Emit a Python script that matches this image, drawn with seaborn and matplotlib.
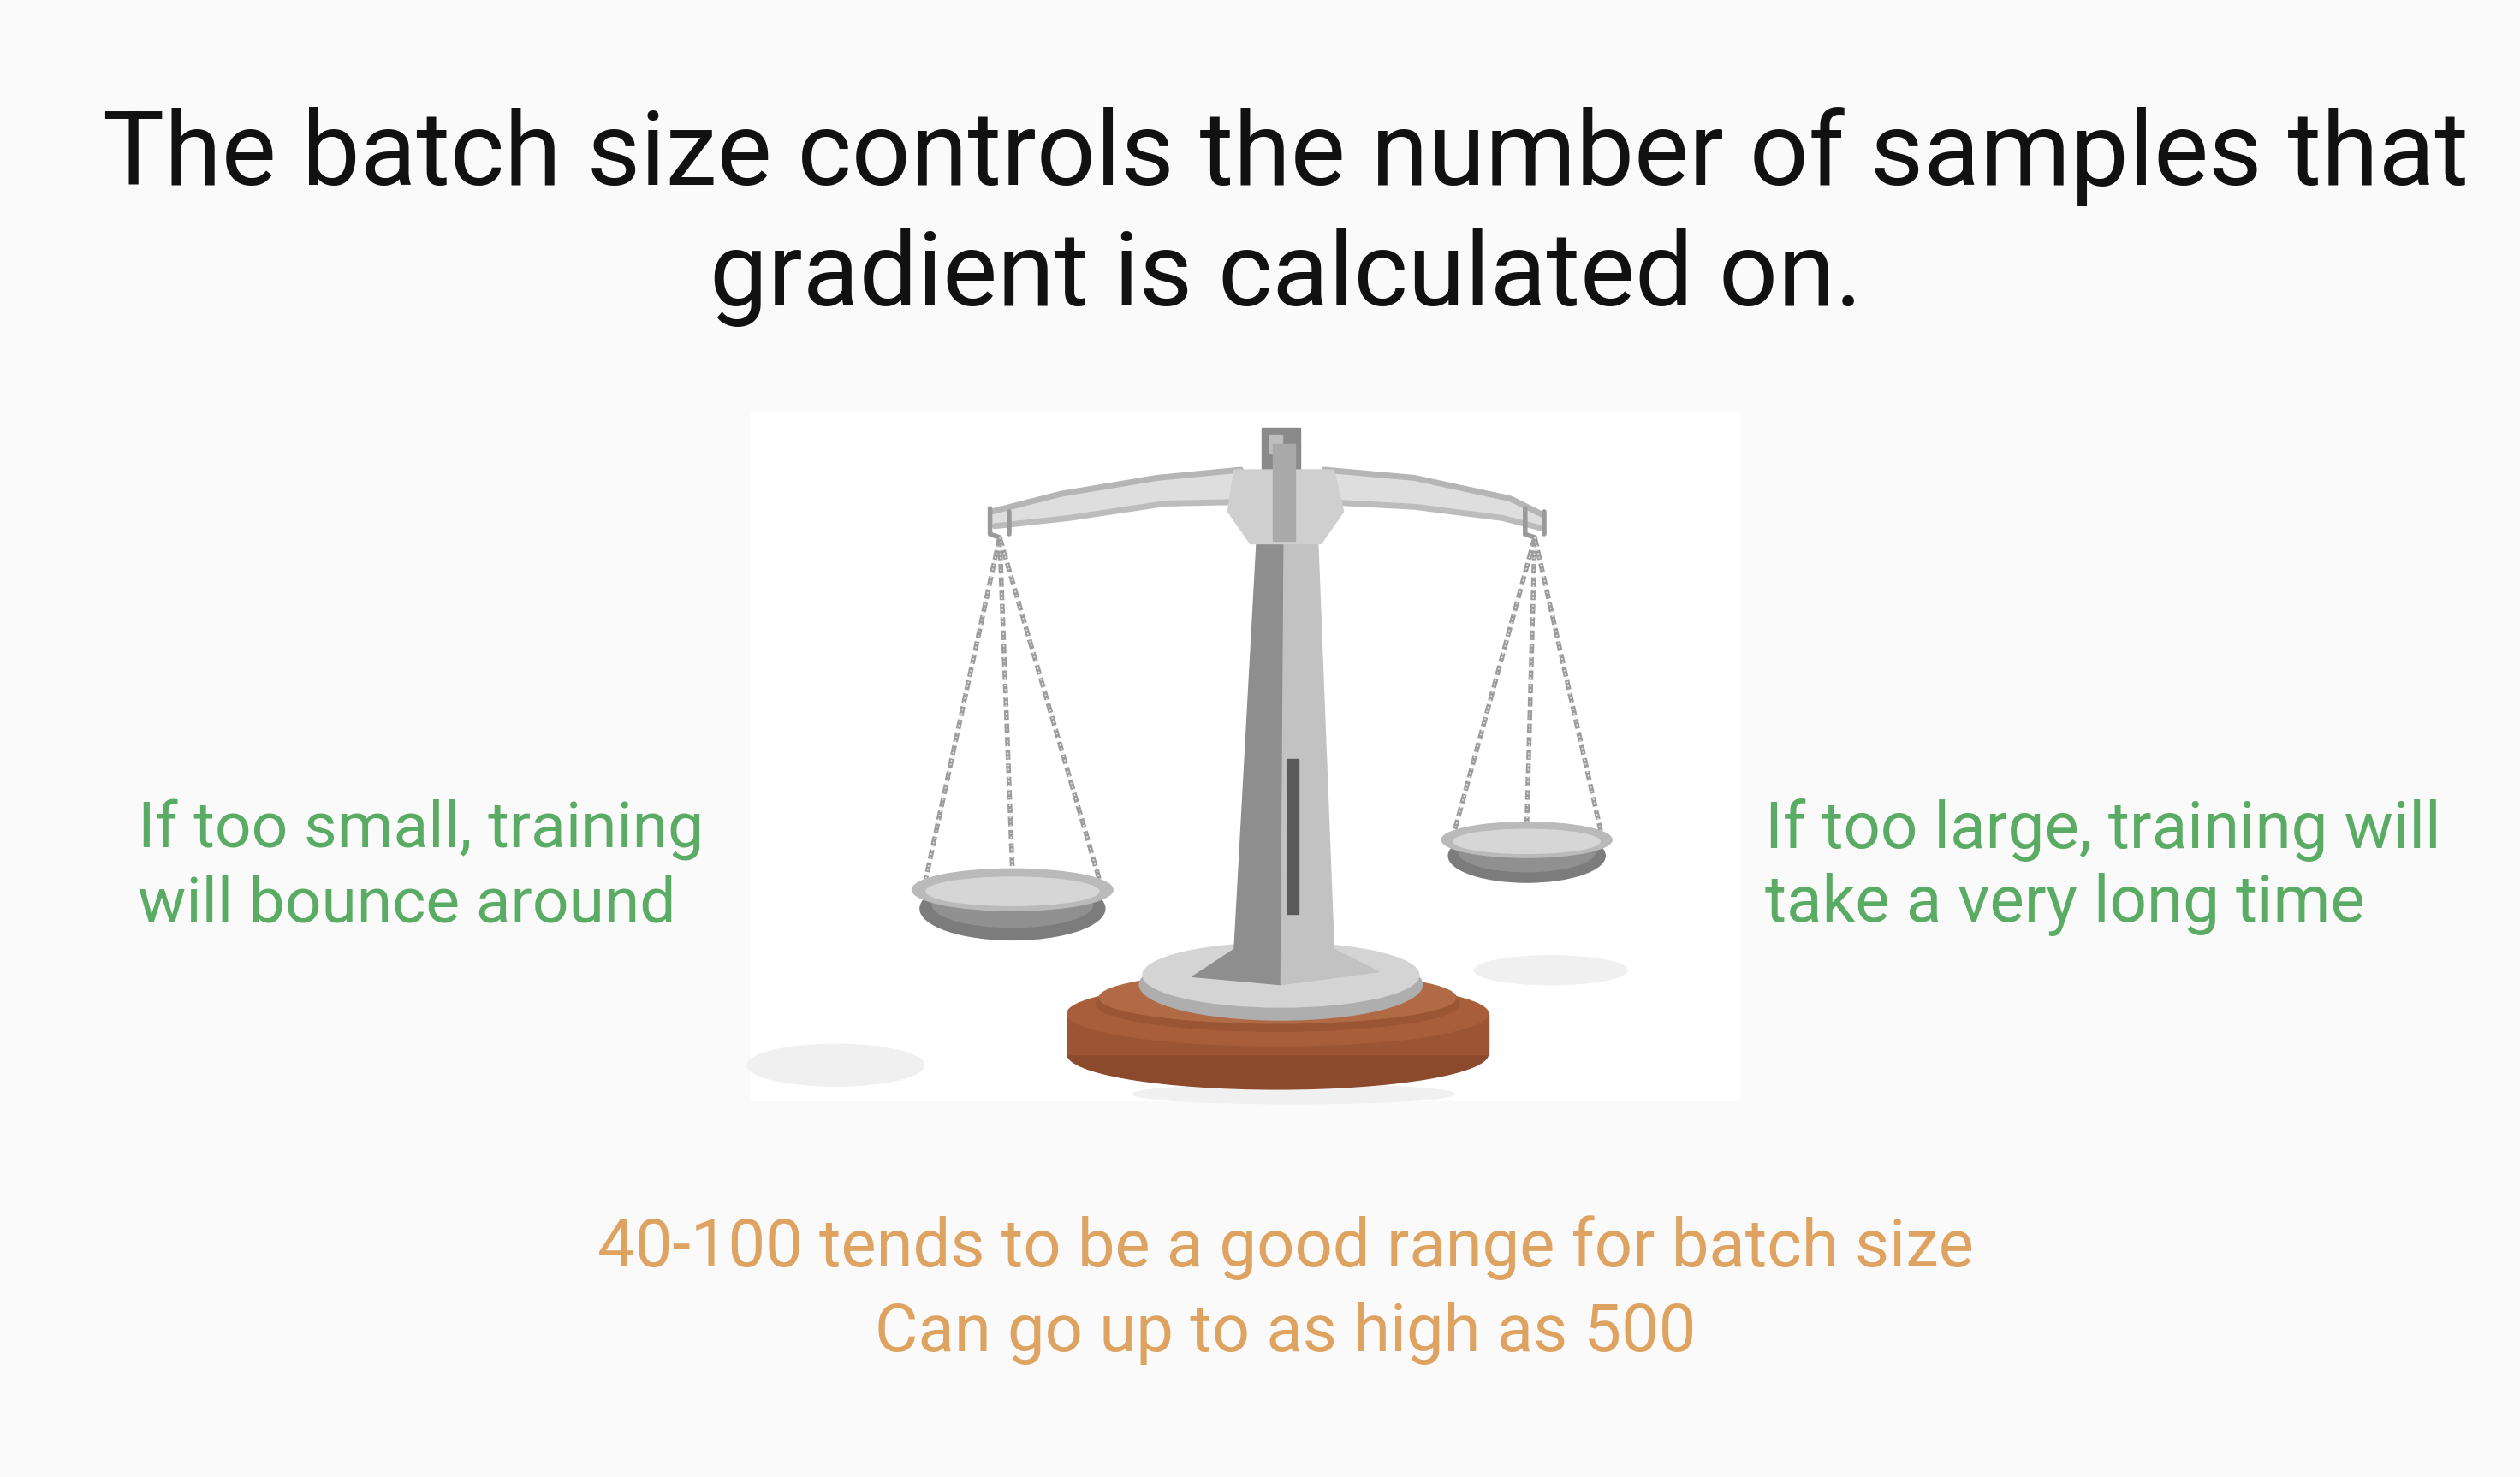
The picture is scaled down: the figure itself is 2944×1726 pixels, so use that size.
import seaborn as sns
import matplotlib.pyplot as plt
import numpy as np
from matplotlib.patches import Ellipse, Polygon, Rectangle

# ---------------- text content ----------------
title_lines = ["The batch size controls the number of samples that",
               "gradient is calculated on."]
left_lines = ["If too small, training", "will bounce around"]
right_lines = ["If too large, training will", "take a very long time"]
bottom_lines = ["40-100 tends to be a good range for batch size",
                "Can go up to as high as 500"]

# ---------------- scale drawing (slide coords, 1568 x 918) ----------------
hook_left = (622, 330)
hook_right = (955, 330)
pan_left = (630, 553, 125, 26)     # cx, cy, w, h
pan_right = (950, 522, 106, 22)
chain_left_ends = [576, 630, 684]
chain_right_ends = [905, 950, 996]

sns.set_theme(style="white")
plt.rcParams['font.family'] = ['Roboto', 'DejaVu Sans']

fig = plt.figure(figsize=(29.44, 17.26), dpi=100)
fig.patch.set_facecolor("#fafafa")
ax = fig.add_axes([0, 0, 1, 1])
ax.set_xlim(0, 1568)
ax.set_ylim(918, 0)
ax.axis("off")

# white picture box
ax.add_patch(Rectangle((467, 256), 615, 428, color="white", zorder=0))

# soft shadows
for (cx, cy, w, h) in [(520, 662, 110, 26), (965, 603, 95, 18), (805, 680, 200, 12)]:
    ax.add_patch(Ellipse((cx, cy), w, h, color="#f0f0f0", zorder=1))

# wooden base
ax.add_patch(Ellipse((795, 655), 262, 44, color="#8c4a2c", zorder=2))
ax.add_patch(Rectangle((664, 630), 262, 25, color="#9c5534", zorder=2))
ax.add_patch(Ellipse((795, 630), 262, 40, color="#a85e3b", zorder=3))
ax.add_patch(Ellipse((795, 624), 226, 34, color="#9a5535", zorder=3))
ax.add_patch(Ellipse((795, 620), 222, 32, color="#b06a45", zorder=3))

# silver foot
ax.add_patch(Ellipse((797, 612), 176, 44, color="#aeaeae", zorder=4))
ax.add_patch(Ellipse((797, 606), 172, 40, color="#d4d4d4", zorder=4))

# column
ax.add_patch(Polygon([(782, 336), (799, 336), (797, 612), (742, 607),
                      (768, 590)], closed=True, color="#8e8e8e", zorder=5))
ax.add_patch(Polygon([(799, 336), (820, 336), (830, 590), (858, 604),
                      (797, 612)], closed=True, color="#c2c2c2", zorder=5))
ax.add_patch(Rectangle((801, 472), 7, 96, color="#5a5a5a", zorder=6))

# post top
ax.add_patch(Rectangle((785, 266), 24, 40, color="#8a8a8a", zorder=6))
ax.add_patch(Rectangle((790, 270), 8, 12, color="#bdbdbd", zorder=7))

# beam arms (upper and lower edges)
beam_upper_l = [(617, 318), (660, 307), (720, 297), (772, 292)]
beam_lower_l = [(619, 327), (665, 322), (725, 313), (772, 312)]
beam_upper_r = [(824, 292), (880, 297), (940, 310), (960, 320)]
beam_lower_r = [(824, 312), (880, 315), (935, 322), (958, 328)]
for up, lo in [(beam_upper_l, beam_lower_l), (beam_upper_r, beam_lower_r)]:
    ux, uy = zip(*up)
    lx, ly = zip(*lo)
    ax.fill_between(ux, uy, np.interp(ux, lx, ly), color="#dedede", zorder=6)
    ax.plot(ux, uy, color="#b5b5b5", lw=5, solid_capstyle="round", zorder=7)
    ax.plot(lx, ly, color="#bcbcbc", lw=5, solid_capstyle="round", zorder=7)

# hub
ax.add_patch(Polygon([(768, 292), (830, 292), (836, 318), (822, 338),
                      (778, 338), (764, 318)], closed=True, color="#cfcfcf", zorder=8))
ax.add_patch(Rectangle((792, 276), 14, 60, color="#a9a9a9", zorder=9))

# hooks
for (hx, hy) in [hook_left, hook_right]:
    ax.plot([hx - 6, hx - 6, hx], [hy - 14, hy + 2, hy + 4], color="#9a9a9a", lw=4, zorder=8)
    ax.plot([hx + 6, hx + 6], [hy - 12, hy + 2], color="#9a9a9a", lw=4, zorder=8)

# chains
for (hx, hy), (cx, cy, w, h), ends in [(hook_left, pan_left, chain_left_ends),
                                       (hook_right, pan_right, chain_right_ends)]:
    for ex in ends:
        ey = cy - h * 0.25 if ex != cx else cy - h * 0.4
        ax.plot([hx, ex], [hy + 4, ey], color="#9c9c9c", lw=4,
                linestyle=(0, (2.0, 0.8)), zorder=8)
        ax.plot([hx, ex], [hy + 4, ey], color="#e8e8e8", lw=1.2,
                linestyle=(0, (1.0, 1.8)), zorder=8)

# pans
for (cx, cy, w, h) in [pan_left, pan_right]:
    ax.add_patch(Ellipse((cx, cy + h * 0.45), w * 0.92, h * 1.5, color="#7c7c7c", zorder=9))
    ax.add_patch(Ellipse((cx, cy + h * 0.35), w * 0.8, h * 1.1, color="#909090", zorder=9))
    ax.add_patch(Ellipse((cx, cy), w, h, color="#bababa", zorder=10))
    ax.add_patch(Ellipse((cx, cy + 1), w * 0.86, h * 0.68, color="#d6d6d6", zorder=10))

# ---------------- text ----------------
for i, line in enumerate(title_lines):
    ax.text(800, 115 + 75 * i, line, ha="center", va="baseline",
            fontsize=87, color="#111111")

for i, line in enumerate(left_lines):
    ax.text(86, 527 + 46 * i, line, ha="left", va="baseline",
            fontsize=54, color="#5aab64")

for i, line in enumerate(right_lines):
    ax.text(1098, 527 + 46 * i, line, ha="left", va="baseline",
            fontsize=55, color="#5aab64")

for i, line in enumerate(bottom_lines):
    ax.text(800, 787 + 53 * i, line, ha="center", va="baseline",
            fontsize=56, color="#dea261")

fig.savefig("out.png", dpi=100, facecolor=fig.get_facecolor())
